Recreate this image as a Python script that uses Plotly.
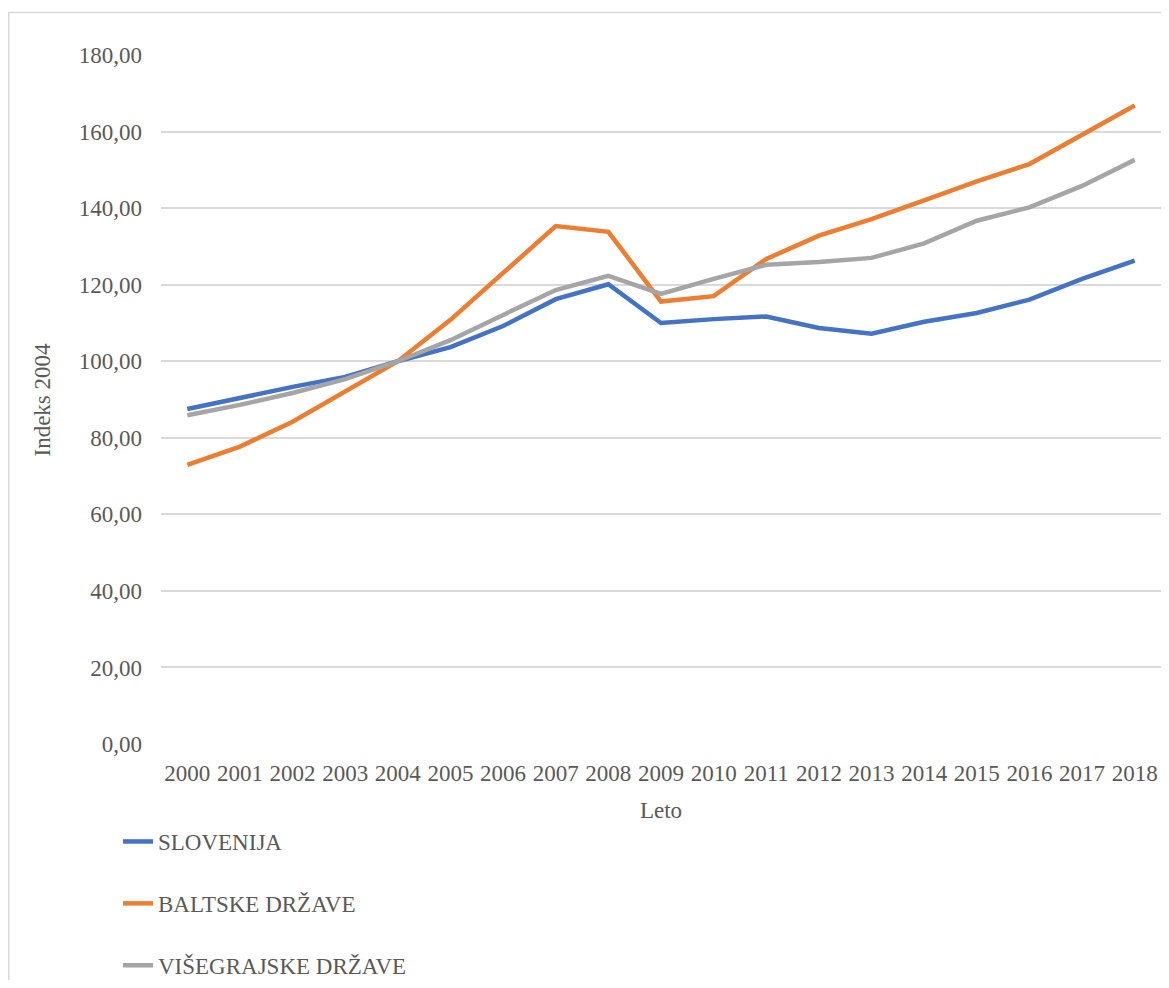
# Libraries
# ===================================================
import plotly.graph_objects as go

# Data
# ===================================================
years = [str(y) for y in range(2000, 2019)]

slovenija = [87.5, 90.4, 93.3, 95.9, 100.0, 103.7, 109.2, 116.2, 120.1, 110.0,
             111.0, 111.7, 108.7, 107.2, 110.3, 112.6, 116.1, 121.5, 126.3]
baltske = [72.9, 77.7, 84.2, 92.0, 100.0, 110.8, 123.0, 135.3, 133.8, 115.6,
           117.0, 126.7, 132.8, 137.1, 142.0, 147.0, 151.5, 159.3, 166.8]
visegrajske = [85.9, 88.6, 91.7, 95.3, 100.0, 105.5, 112.1, 118.6, 122.3, 117.6,
               121.5, 125.2, 125.9, 127.0, 130.8, 136.7, 140.2, 145.8, 152.6]

series_names = ["SLOVENIJA", "BALTSKE DRŽAVE", "VIŠEGRAJSKE DRŽAVE"]
series_values = [slovenija, baltske, visegrajske]
series_colors = ["#4472C4", "#ED7D31", "#A5A5A5"]

y_ticks = [0, 20, 40, 60, 80, 100, 120, 140, 160, 180]
y_ticktext = [f"{v},00" for v in y_ticks]

# Figure
# ===================================================
font_family = "Liberation Serif, Times New Roman, serif"
text_color = "#595959"
grid_color = "#d9d9d9"
fsize = 23
W, H = 1153, 972          # page body adds 8px margin around the figure
ml, mt, pw, ph = 153, 47, 1000, 689

fig = go.Figure()

for i, (name, vals, col) in enumerate(zip(series_names, series_values, series_colors)):
    fig.add_trace(go.Scatter(
        x=years,
        y=vals,
        mode="lines",
        name=name,
        legendgroup=f"g{i}",
        line=dict(color=col, width=4.5),
    ))

# Outer chart border (left and top visible)
fig.add_shape(
    type="rect",
    xref="paper", yref="paper",
    x0=(0.75 - ml) / pw, x1=1.2,
    y0=-0.6, y1=(mt + ph - 4.6) / ph,
    line=dict(color=grid_color, width=1.5),
    fillcolor="rgba(0,0,0,0)",
    layer="below"
)

# Y axis title
fig.add_annotation(
    text="Indeks 2004",
    textangle=-90,
    xref="paper", yref="paper",
    x=(34 - ml) / pw, y=0.5,
    xanchor="center", yanchor="middle",
    showarrow=False,
    font=dict(size=fsize, color=text_color),
)

fig.update_layout(
    width=W,
    height=H,
    margin=dict(l=ml, r=W - ml - pw, t=mt, b=H - mt - ph, autoexpand=False),
    plot_bgcolor="white",
    paper_bgcolor="white",
    font=dict(family=font_family, size=fsize, color=text_color),
    xaxis=dict(
        type="category",
        range=[-0.5, len(years) - 0.5],
        showgrid=False,
        showline=False,
        zeroline=False,
        ticks="",
        ticklabelstandoff=13,
        tickfont=dict(size=fsize, color=text_color),
        title=dict(text="Leto", font=dict(size=fsize, color=text_color), standoff=16),
    ),
    yaxis=dict(
        range=[0, 180],
        tickvals=y_ticks,
        ticktext=y_ticktext,
        showgrid=True,
        gridcolor=grid_color,
        gridwidth=1.5,
        zeroline=False,
        showline=False,
        ticks="",
        ticklabelstandoff=18,
        tickfont=dict(size=fsize, color=text_color),
    ),
    legend=dict(
        orientation="v",
        xref="container",
        yref="container",
        x=110 / W,
        xanchor="left",
        y=1 - 812 / H,
        yanchor="top",
        font=dict(size=fsize, color=text_color),
        tracegroupgap=29,
        bgcolor="rgba(0,0,0,0)",
    ),
)

# Save as HTML file!
fig.write_html("out.html")
